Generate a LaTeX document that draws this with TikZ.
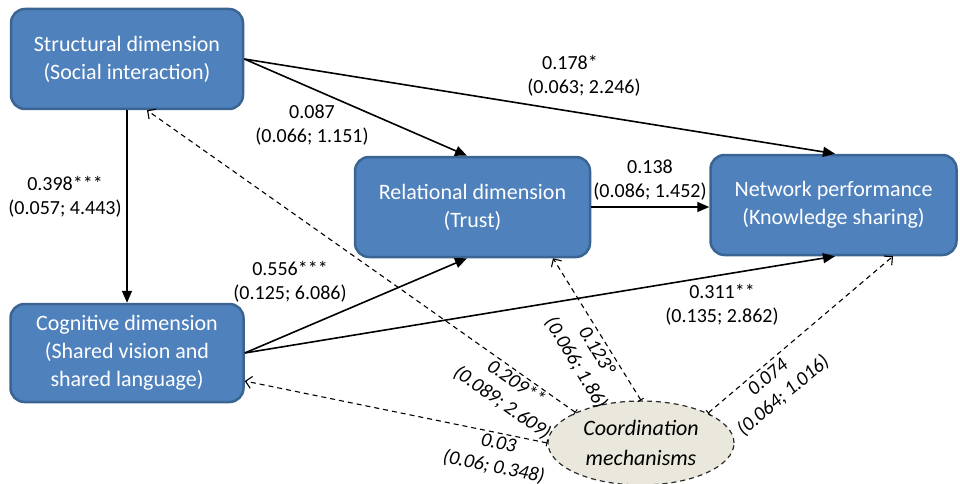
\documentclass[tikz,border=0pt]{standalone}
\usepackage{fontspec}
\setmainfont{Carlito}
\usetikzlibrary{arrows.meta,shapes.geometric}
\definecolor{boxfill}{HTML}{4F81BD}
\definecolor{boxline}{HTML}{3A6593}
\definecolor{ellfill}{HTML}{EAE8DC}
\definecolor{ellline}{HTML}{2B2B2B}
\begin{document}
\begin{tikzpicture}[x=1pt,y=-1pt,
  dim/.style={draw=boxline, line width=2.5pt, fill=boxfill, rounded corners=14pt,
    text=white, align=center, inner sep=0pt, font=\fontsize{22}{28}\selectfont},
  lab/.style={align=center, inner sep=0pt, font=\fontsize{20}{24}\selectfont},
  ilab/.style={align=center, inner sep=0pt, font=\fontsize{20}{24}\selectfont\itshape},
  sarrow/.style={line width=1.6pt, -{Triangle[length=12pt,width=10pt]}},
  darrow/.style={line width=1.1pt, dash pattern=on 5pt off 4pt,
    {Bar[width=7pt,line width=1pt]}-{Straight Barb[length=6pt,width=12pt,line width=1.1pt]}}
]
\useasboundingbox (0,0) rectangle (960,484);

\node[dim, minimum width=232pt, minimum height=100pt] (struct) at (127,59)
  {Structural dimension\\(Social interaction)};
\node[dim, minimum width=233pt, minimum height=98pt] (cog) at (127,353)
  {Cognitive dimension\\(Shared vision and\\shared language)};
\node[dim, minimum width=235pt, minimum height=100pt] (rel) at (472.5,207)
  {Relational dimension\\(Trust)};
\node[dim, minimum width=246pt, minimum height=100pt] (net) at (833.5,205)
  {Network performance\\(Knowledge sharing)};
\node[ellipse, draw=ellline, fill=ellfill, line width=1.2pt, dash pattern=on 5pt off 4pt,
  minimum width=186pt, minimum height=84pt, inner sep=0pt, align=center,
  font=\fontsize{22}{30}\selectfont\itshape] (coord) at (641,443)
  {Coordination\\mechanisms};

% solid paths
\draw[sarrow] (struct.south) -- (cog.north);
\draw[sarrow] (struct.east) -- ([xshift=-5.5pt]rel.north);
\draw[sarrow] (struct.east) -- ([xshift=1.5pt]net.north);
\draw[sarrow] (rel.east) -- (rel.east -| net.west);
\draw[sarrow] (cog.east) -- ([xshift=-5.5pt]rel.south);
\draw[sarrow] (cog.east) -- ([xshift=1.5pt]net.south);

% dashed paths
\draw[darrow] (coord.155) -- ([xshift=20pt]struct.south);
\draw[darrow] (coord.north) -- ([xshift=80.5pt]rel.south);
\draw[darrow] (coord.24) -- ([xshift=59.5pt]net.south);
\draw[darrow] (coord.west) -- ([yshift=-28pt]cog.east);

% labels
\node[lab] (l1) at (65,197) {0.398***\\(0.057; 4.443)};
\node[lab] (l2) at (312,125) {0.087\\(0.066; 1.151)};
\node[lab] (l3) at (584,76) {0.178*\hspace*{28pt}\\(0.063; 2.246)};
\node[lab] (l4) at (650,180) {0.138\\(0.086; 1.452)};
\node[lab] (l5) at (290,282) {0.556***\\(0.125; 6.086)};
\node[lab] (l6) at (722,305) {0.311**\\(0.135; 2.862)};
\node[ilab, rotate=-35] (l7) at (509,393) {0.209**\\(0.089; 2.609)};
\node[ilab, rotate=-59] (l8) at (586,357) {0.123°\\(0.066; 1.86)};
\node[ilab, rotate=40] (l9) at (776,387) {0.074\\(0.064; 1.016)};
\node[ilab, rotate=-11.5] (l10) at (496,456) {0.03\\(0.06; 0.348)};
\end{tikzpicture}
\end{document}
